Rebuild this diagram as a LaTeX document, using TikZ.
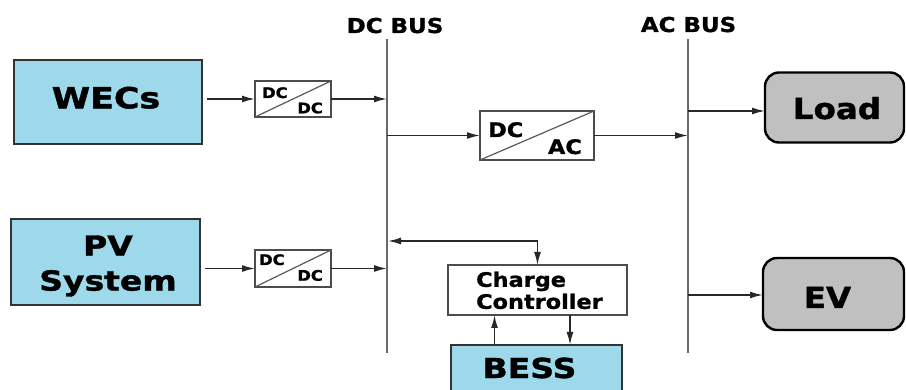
\documentclass[tikz,border=0pt]{standalone}
\usepackage{fontspec}
\setmainfont{DejaVu Sans}
\newfontfamily\wideA{DejaVu Sans}[FakeStretch=1.2, FakeBold=1.4]
\newfontfamily\wideB{DejaVu Sans}[FakeStretch=1.12, FakeBold=1.2]
\usetikzlibrary{arrows.meta}
\definecolor{boxblue}{RGB}{157,217,235}
\definecolor{boxgrey}{RGB}{192,192,192}
\definecolor{busgrey}{RGB}{105,105,105}
\definecolor{linegrey}{RGB}{40,40,40}
\begin{document}
\begin{tikzpicture}[x=1pt,y=-1pt,
  srcbox/.style={draw=black!80, line width=1.8pt, fill=boxblue, inner sep=0pt, outer sep=0pt},
  conv/.style={draw=black!70, line width=1.5pt, fill=white, inner sep=0pt, outer sep=0pt},
  convline/.style={draw=black!65, line width=1.2pt},
  loadbox/.style={draw=black, line width=2.4pt, fill=boxgrey, rounded corners=14pt, inner sep=0pt, outer sep=0pt},
  bus/.style={draw=busgrey, line width=2.6pt},
  arr/.style={draw=linegrey, line width=1.6pt, -{Latex[length=13pt,width=7pt]}},
  dbl/.style={draw=linegrey, line width=1.6pt, {Latex[length=13pt,width=7pt]}-{Latex[length=13pt,width=7pt]}},
  lbl/.style={inner sep=0pt, anchor=base},
  bigA/.style={font=\wideA\bfseries\fontsize{29}{35}\selectfont},
  bigB/.style={font=\wideA\bfseries\fontsize{27.5}{35}\selectfont},
  midt/.style={font=\wideB\bfseries\fontsize{29}{35}\selectfont},
  busfont/.style={font=\wideB\bfseries\fontsize{20.5}{24}\selectfont},
  ccfont/.style={font=\wideB\bfseries\fontsize{20}{22}\selectfont},
  dcacfont/.style={font=\wideB\bfseries\fontsize{20}{24}\selectfont},
  smallfont/.style={font=\wideB\bfseries\fontsize{14.5}{16}\selectfont}
]
\useasboundingbox (0,0) rectangle (906,390);
\clip (0,0) rectangle (906,390);

% buses
\coordinate (dctop) at (387,39);
\coordinate (dcbot) at (387,353);
\coordinate (actop) at (688,39);
\coordinate (acbot) at (688,353);
\draw[bus] (dctop) -- (dcbot);
\draw[bus] (actop) -- (acbot);

% boxes
\node[srcbox, minimum width=188pt, minimum height=84pt] (wec) at (108,102) {};
\node[srcbox, minimum width=189pt, minimum height=86pt] (pv) at (105.5,262) {};
\node[conv, minimum width=76pt, minimum height=36pt] (dcdc1) at (293,99) {};
\node[conv, minimum width=76pt, minimum height=37pt] (dcdc2) at (293,268.5) {};
\node[conv, minimum width=114pt, minimum height=49pt] (dcac) at (537,135.5) {};
\node[conv, minimum width=179pt, minimum height=50pt] (cc) at (537.5,290) {};
\node[srcbox, minimum width=171pt, minimum height=60pt] (bess) at (536.5,375) {};
\node[loadbox, minimum width=139pt, minimum height=70pt] (load) at (834.5,107.5) {};
\node[loadbox, minimum width=141pt, minimum height=72pt] (ev) at (833.5,294) {};

% converter diagonals
\draw[convline] (dcdc1.south west) -- (dcdc1.north east);
\draw[convline] (dcdc2.south west) -- (dcdc2.north east);
\draw[convline] (dcac.south west) -- (dcac.north east);

% connectors
\draw[arr] ([xshift=5pt]wec.east |- dcdc1.west) -- (dcdc1.west);
\draw[arr] (dcdc1.east) -- (dcdc1.east -| dctop);
\draw[arr] ([xshift=5pt]pv.east |- dcdc2.west) -- (dcdc2.west);
\draw[arr] (dcdc2.east) -- (dcdc2.east -| dctop);
\draw[arr] (dcac.west -| dctop) -- (dcac.west);
\draw[arr] (dcac.east) -- (dcac.east -| actop);
\coordinate (lj) at (688,111);
\draw[arr] (lj) -- (lj -| load.west);
\coordinate (ej) at (688,295);
\draw[arr] (ej) -- (ej -| ev.west);
\coordinate (cj) at (388,241);
\draw[dbl] (cj) -| (cc.north);
\draw[arr] ([xshift=-42pt]bess.north) -- ([xshift=-42pt]bess.north |- cc.south);
\draw[arr] ([xshift=33.5pt]bess.north |- cc.south) -- ([xshift=33.5pt]bess.north);

% texts
\node[lbl, bigA] (wect) at (106,108.3) {WECs};
\node[bigB, align=center, inner sep=0pt] (pvt) at (108,266) {PV\\System};
\node[lbl, bigB] (besst) at (529.5,378) {BESS};
\node[lbl, midt] (loadt) at (837,119) {Load};
\node[lbl, midt] (evt) at (827.5,308) {EV};
\node[lbl, busfont] (dcbust) at (395,33) {DC BUS};
\node[lbl, busfont] (acbust) at (688.5,32) {AC BUS};
\node[ccfont, align=left, anchor=west, inner sep=0pt] (cct) at (476,290.4) {Charge\\Controller};
\node[smallfont, inner sep=0pt, anchor=base west] (d1a) at (262,98) {DC};
\node[smallfont, inner sep=0pt, anchor=base east] (d1b) at (323,113.3) {DC};
\node[smallfont, inner sep=0pt, anchor=base west] (d2a) at (259,265) {DC};
\node[smallfont, inner sep=0pt, anchor=base east] (d2b) at (323,280.7) {DC};
\node[dcacfont, inner sep=0pt, anchor=base west] (d3a) at (488,137) {DC};
\node[dcacfont, inner sep=0pt, anchor=base east] (d3b) at (582,154) {AC};
\end{tikzpicture}
\end{document}
